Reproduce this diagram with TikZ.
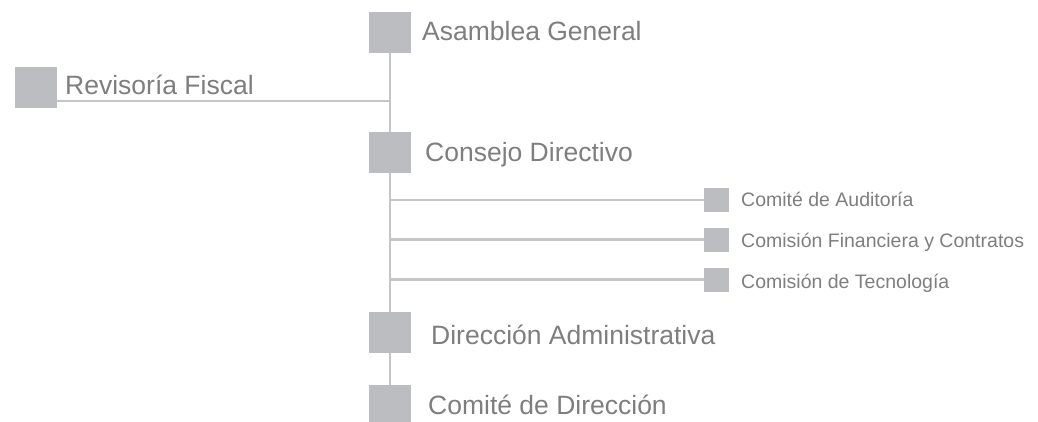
\documentclass[tikz,border=0pt]{standalone}
\usepackage{fontspec}
\setmainfont{Liberation Sans}
\definecolor{boxgray}{HTML}{BCBDC0}
\definecolor{linegray}{HTML}{C4C5C7}
\definecolor{txtgray}{HTML}{7E7E80}
\begin{document}
\begin{tikzpicture}[x=1pt,y=-1pt,
  bigsq/.style={fill=boxgray, minimum width=42pt, minimum height=41pt, inner sep=0pt, outer sep=0pt},
  smallsq/.style={fill=boxgray, minimum width=25pt, minimum height=24pt, inner sep=0pt, outer sep=0pt},
  bigtxt/.style={anchor=base west, inner sep=0pt, text=txtgray, font=\fontsize{26.5}{30}\selectfont},
  smalltxt/.style={anchor=base west, inner sep=0pt, text=txtgray, font=\fontsize{19.5}{23}\selectfont},
  conn/.style={draw=linegray, line width=2.5pt}]
\useasboundingbox (0,0) rectangle (1038,422);
% boxes
\node[bigsq] (ag) at (390,32.5) {};
\node[bigsq] (rf) at (36,87.5) {};
\node[bigsq] (cd) at (390,152.5) {};
\node[smallsq] (ca) at (716.5,200) {};
\node[smallsq] (cf) at (716.5,239.5) {};
\node[smallsq] (ct) at (716.5,279.5) {};
\node[bigsq] (da) at (390,332) {};
\node[bigsq] (cdir) at (390,405.5) {};
% labels
\node[bigtxt] (agt) at (422,41) {Asamblea General};
\node[bigtxt] (rft) at (65,94.5) {Revisoría Fiscal};
\node[bigtxt] (cdt) at (425,162) {Consejo Directivo};
\node[smalltxt] (cat) at (741,207) {Comité de Auditoría};
\node[smalltxt] (cft) at (741,247) {Comisión Financiera y Contratos};
\node[smalltxt] (ctt) at (741,288) {Comisión de Tecnología};
\node[bigtxt] (dat) at (431,344) {Dirección Administrativa};
\node[bigtxt] (cdirt) at (428,414) {Comité de Dirección};
% connectors
\coordinate (rfj) at (390,101);
\draw[conn] (ag.south) -- (cd.north);
\draw[conn] (cd.south) -- (da.north);
\draw[conn] (da.south) -- (cdir.north);
\draw[conn] ([yshift=7pt]rf.south east) -- (rfj);
\draw[conn] (ca.west) -- (ca.west -| cd.south);
\draw[conn] (cf.west) -- (cf.west -| cd.south);
\draw[conn] (ct.west) -- (ct.west -| cd.south);
\end{tikzpicture}
\end{document}
